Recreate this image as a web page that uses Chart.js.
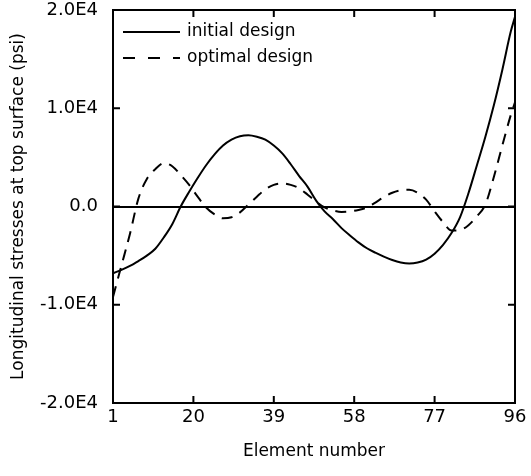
<!DOCTYPE html>
<html>
<head>
<meta charset="utf-8">
<script src="https://cdn.jsdelivr.net/npm/chart.js@4.4.0/dist/chart.umd.min.js"></script>
<style>
  html, body { margin: 0; padding: 0; background: #fff; }
  canvas { display: block; }
</style>
</head>
<body>
<canvas id="stressChart" width="531" height="476"></canvas>
<script>
// values, every second element
const elementNumbers = [1, 3, 5, 7, 9, 11, 13, 15, 17, 19, 21, 23, 25, 27, 29, 31, 33, 35, 37, 39, 41, 43, 45, 47, 49,
                        51, 53, 55, 57, 59, 61, 63, 65, 67, 69, 71, 73, 75, 77, 79, 81, 83, 85, 87, 89, 91, 93, 95, 96];
const initialDesign = [-6800, -6450, -6050, -5550, -5000, -4300, -3150, -1800, 0, 1500, 2900, 4200, 5300, 6200, 6800, 7150, 7250, 7100, 6800, 6200, 5400, 4300, 3100, 2000, 600,
                       -500, -1300, -2200, -2950, -3650, -4250, -4700, -5100, -5450, -5700, -5800, -5700, -5400, -4800, -3900, -2700, -1100, 1350, 4200, 7100, 10300, 13900, 17800, 19300];
const optimalDesign = [-9200, -6000, -2800, 800, 2800, 3800, 4400, 4100, 3200, 2200, 1000, -100, -800, -1200, -1100, -600, 200, 1000, 1750, 2200, 2350, 2200, 1850, 1200, 500,
                       -100, -400, -550, -500, -350, -100, 400, 950, 1400, 1650, 1700, 1400, 700, -500, -1600, -2450, -2400, -1900, -1000, 200, 3000, 6200, 9300, 10600];
const seriesNames = ['initial design', 'optimal design'];
const xTicks = [1, 20, 39, 58, 77, 96];
const yTicks = [-20000, -10000, 0, 10000, 20000];
const yTickLabels = ['-2.0E4', '-1.0E4', '0.0', '1.0E4', '2.0E4'];

const FONT = 'DejaVu Sans';
const INK = '#000';

function toPoints(values) {
    return elementNumbers.map((n, i) => ({x: n, y: values[i]}));
}

// box round the plot with small ticks pointing inwards, and the legend in the top left corner
const frameAndLegend = {
    id: 'frameAndLegend',
    afterDraw(chart) {
        const {ctx, chartArea, scales} = chart;
        const {left, right, top, bottom} = chartArea;
        const tickLen = 7;
        ctx.save();
        ctx.strokeStyle = INK;
        ctx.lineWidth = 2;
        ctx.setLineDash([]);
        ctx.strokeRect(left, top, right - left, bottom - top);
        ctx.beginPath();
        xTicks.slice(1, -1).forEach(v => {
            const px = scales.x.getPixelForValue(v);
            ctx.moveTo(px, bottom); ctx.lineTo(px, bottom - tickLen);
            ctx.moveTo(px, top); ctx.lineTo(px, top + tickLen);
        });
        yTicks.slice(1, -1).forEach(v => {
            const py = scales.y.getPixelForValue(v);
            ctx.moveTo(left, py); ctx.lineTo(left + tickLen, py);
            ctx.moveTo(right, py); ctx.lineTo(right - tickLen, py);
        });
        ctx.stroke();

        // legend
        ctx.font = '17px "' + FONT + '"';
        ctx.fillStyle = INK;
        ctx.textBaseline = 'middle';
        chart.data.datasets.forEach((ds, i) => {
            const y = top + 22 + i * 26;
            ctx.beginPath();
            ctx.setLineDash(ds.borderDash ? [12, 13] : []);
            ctx.moveTo(left + 10, y);
            ctx.lineTo(left + 67, y);
            ctx.stroke();
            ctx.fillText(ds.label, left + 74, y);
        });
        ctx.restore();
    }
};

new Chart(document.getElementById('stressChart'), {
    type: 'line',
    data: {
        datasets: [
            {
                label: seriesNames[0],
                data: toPoints(initialDesign),
                borderColor: INK,
                borderWidth: 2,
                pointRadius: 0,
                cubicInterpolationMode: 'monotone',
                fill: false
            },
            {
                label: seriesNames[1],
                data: toPoints(optimalDesign),
                borderColor: INK,
                borderWidth: 2,
                borderDash: [11, 8],
                pointRadius: 0,
                cubicInterpolationMode: 'monotone',
                fill: false
            }
        ]
    },
    options: {
        responsive: false,
        animation: false,
        layout: {padding: {top: 0, right: 16, left: 0, bottom: 0}},
        plugins: {
            legend: {display: false},
            tooltip: {enabled: false}
        },
        scales: {
            x: {
                type: 'linear',
                min: 1,
                max: 96,
                afterBuildTicks: scale => { scale.ticks = xTicks.map(v => ({value: v})); },
                afterFit: scale => { scale.height = 73; },
                ticks: {
                    color: INK,
                    font: {family: FONT, size: 18},
                    padding: 4,
                    maxRotation: 0,
                    autoSkip: false
                },
                grid: {display: false, drawTicks: false},
                border: {display: false},
                title: {
                    display: true,
                    text: 'Element number',
                    color: INK,
                    font: {family: FONT, size: 17},
                    padding: {top: 0, bottom: 14}
                }
            },
            y: {
                min: -20000,
                max: 20000,
                afterBuildTicks: scale => { scale.ticks = yTicks.map(v => ({value: v})); },
                afterFit: scale => { scale.width = 113; scale.paddingTop = 10; scale.paddingBottom = 0; },
                ticks: {
                    color: INK,
                    font: {family: FONT, size: 18},
                    padding: 15,
                    callback: value => yTickLabels[yTicks.indexOf(value)]
                },
                grid: {
                    drawTicks: false,
                    lineWidth: 2,
                    color: ctx => ctx.tick && ctx.tick.value === 0 ? INK : 'rgba(0,0,0,0)'
                },
                border: {display: false},
                title: {
                    display: true,
                    text: 'Longitudinal stresses at top surface (psi)',
                    color: INK,
                    font: {family: FONT, size: 17},
                    padding: {top: 8, bottom: 0}
                }
            }
        }
    },
    plugins: [frameAndLegend]
});
</script>
</body>
</html>
